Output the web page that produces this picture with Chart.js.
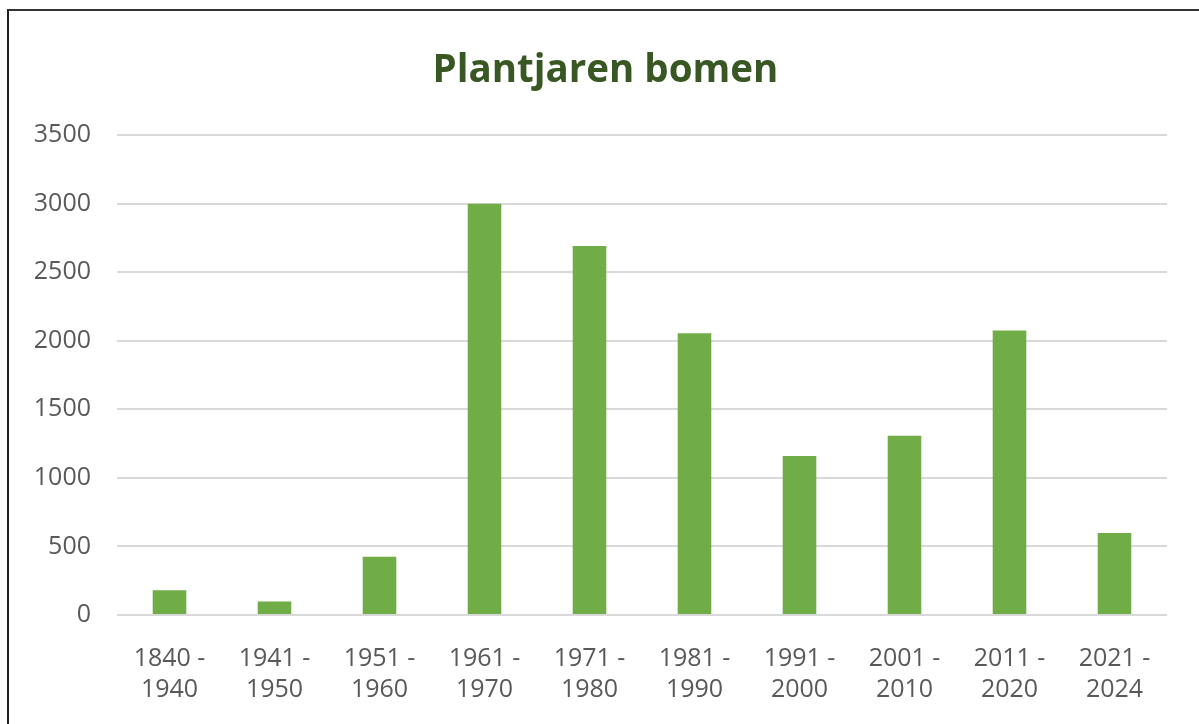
<!DOCTYPE html>
<html>
<head>
<meta charset="utf-8">
<script src="https://cdn.jsdelivr.net/npm/chart.js@4/dist/chart.umd.min.js"></script>
<style>
  html, body { margin: 0; padding: 0; background: #fff; }
  body { width: 1199px; height: 724px; position: relative; overflow: hidden; }
  #chart { position: absolute; left: 0; top: 0; }
  #frame {
    position: absolute; left: 7px; top: 9px; width: 1300px; height: 800px;
    border-top: 2px solid #333; border-left: 2px solid #222; z-index: 2;
  }
</style>
</head>
<body>
<canvas id="chart" width="1199" height="724"></canvas>
<div id="frame"></div>
<script>
// Plantjaren bomen — number of trees by planting period
const periods = [
  ["1840 -", "1940"], ["1941 -", "1950"], ["1951 -", "1960"], ["1961 -", "1970"],
  ["1971 -", "1980"], ["1981 -", "1990"], ["1991 -", "2000"], ["2001 -", "2010"],
  ["2011 -", "2020"], ["2021 -", "2024"]
];
const treeCounts = [180, 98, 425, 3000, 2692, 2056, 1160, 1308, 2075, 598];
const yTicks = [0, 500, 1000, 1500, 2000, 2500, 3000, 3500];

const GREEN = "#70ad47";
const GRID = "#d9d9d9";
const LABEL = "#595959";
const FONT = "'Open Sans', 'Noto Sans', sans-serif";

new Chart(document.getElementById("chart"), {
  type: "bar",
  data: {
    labels: periods,
    datasets: [{ label: "Bomen", data: treeCounts, backgroundColor: GREEN, borderWidth: 0,
                 categoryPercentage: 1, barPercentage: 0.32 }]
  },
  options: {
    responsive: false,
    animation: false,
    devicePixelRatio: 1,
    layout: { padding: { top: 48, right: 32, bottom: 18, left: 0 } },
    plugins: {
      legend: { display: false },
      tooltip: { enabled: false },
      title: {
        display: true,
        text: "Plantjaren bomen",
        color: "#385723",
        font: { family: FONT, size: 38.5, weight: "bold", lineHeight: 1.2 },
        padding: { top: 0, bottom: 41 }
      }
    },
    scales: {
      x: {
        afterFit: scale => { scale.height = 91; },
        grid: { display: false, drawTicks: false },
        border: { display: false },
        ticks: { color: LABEL, font: { family: FONT, size: 25, lineHeight: 1.22 }, padding: 29,
                 maxRotation: 0, autoSkip: false }
      },
      y: {
        min: yTicks[0], max: yTicks[yTicks.length - 1],
        afterFit: scale => { scale.width = 117; },
        grid: { color: GRID, lineWidth: 2, drawTicks: false },
        border: { display: false },
        ticks: { color: LABEL, font: { family: FONT, size: 25 }, padding: 26,
                 stepSize: yTicks[1] - yTicks[0], callback: v => String(v) }
      }
    }
  },
  plugins: [{
    id: "whiteBg",
    beforeDraw(chart) {
      const c = chart.ctx;
      c.save(); c.fillStyle = "#fff"; c.fillRect(0, 0, chart.width, chart.height); c.restore();
    }
  }, {
    // the title is centred on the framed box, not on the plot
    id: "titleCentre",
    afterLayout(chart) {
      if (chart.titleBlock) chart.titleBlock.left = 44;
    }
  }]
});
</script>
</body>
</html>
